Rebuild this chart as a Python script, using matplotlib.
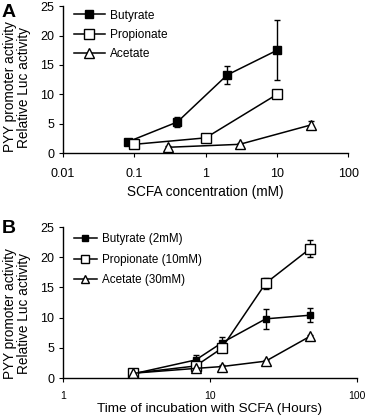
import matplotlib
matplotlib.use("Agg")
import matplotlib.pyplot as plt

plt.rcParams['font.family'] = ['Liberation Sans', 'DejaVu Sans']

# Panel A data
but_conc = [0.08, 0.4, 2, 10]
but_A = [1.9, 5.3, 13.3, 17.5]
but_A_err = [0.2, 0.8, 1.6, 5.1]
pro_conc = [0.1, 1, 10]
pro_A = [1.5, 2.6, 10.0]
pro_A_err = [0.2, 0.3, 0.6]
ace_conc = [0.3, 3, 30]
ace_A = [1.0, 1.5, 4.8]
ace_A_err = [0.2, 0.2, 0.7]

# Panel B data
hours = [3, 8, 12, 24, 48]
but_B = [0.7, 3.0, 5.8, 9.8, 10.4]
but_B_err = [0.1, 0.8, 1.0, 1.6, 1.2]
pro_B = [0.8, 2.0, 4.9, 15.7, 21.4]
pro_B_err = [0.1, 0.4, 0.4, 0.9, 1.4]
ace_B = [0.8, 1.6, 1.9, 2.8, 6.9]
ace_B_err = [0.1, 0.2, 0.2, 0.2, 0.3]

labelsA = ['Butyrate', 'Propionate', 'Acetate']
labelsB = ['Butyrate (2mM)', 'Propionate (10mM)', 'Acetate (30mM)']
xticksA = [0.01, 0.1, 1, 10, 100]
xticklabelsA = ['0.01', '0.1', '1', '10', '100']
xticksB = [1, 10, 100]
xticklabelsB = ['1', '10', '100']
yticks = [0, 5, 10, 15, 20, 25]

fig = plt.figure(figsize=(3.67, 4.15), dpi=100)
axA = fig.add_axes([0.172, 0.631, 0.777, 0.354])
axB = fig.add_axes([0.172, 0.089, 0.80, 0.364])

def style(ax):
    ax.spines['top'].set_visible(False)
    ax.spines['right'].set_visible(False)
    for s in ('left', 'bottom'):
        ax.spines[s].set_linewidth(1.0)
    ax.tick_params(axis='both', direction='out', length=3, width=0.8, labelsize=9)
    ax.minorticks_off()

common = dict(color='black', lw=1.1, capsize=2.5, elinewidth=1.0, capthick=1.0)
ylab = 'PYY promoter activity\nRelative Luc activity'

axA.errorbar(but_conc, but_A, yerr=but_A_err, marker='s', ms=5.5, mfc='black', mec='black', label=labelsA[0], **common)
axA.errorbar(pro_conc, pro_A, yerr=pro_A_err, marker='s', ms=7, mfc='white', mec='black', mew=1.0, label=labelsA[1], **common)
axA.errorbar(ace_conc, ace_A, yerr=ace_A_err, marker='^', ms=7.5, mfc='white', mec='black', mew=1.0, label=labelsA[2], **common)
axA.set_xscale('log')
axA.set_xlim(0.01, 100)
axA.set_ylim(0, 25)
axA.set_xticks(xticksA)
axA.set_xticklabels(xticklabelsA)
axA.set_yticks(yticks)
style(axA)
axA.tick_params(axis='x', pad=8)
axA.set_xlabel('SCFA concentration (mM)', fontsize=9.8, labelpad=3)
axA.set_ylabel(ylab, fontsize=9.8, linespacing=1.0)
axA.yaxis.set_label_coords(-0.112, 0.45)
hA, lA = axA.get_legend_handles_labels()
axA.legend([h[0] for h in hA], lA, loc='upper left', bbox_to_anchor=(0.0, 1.05), frameon=False,
           fontsize=8.6, handlelength=2.6, handletextpad=0.4, labelspacing=0.6)
fig.text(0.005, 0.99, 'A', fontsize=14, fontweight='bold', va='top', ha='left')

axB.errorbar(hours, but_B, yerr=but_B_err, marker='s', ms=5, mfc='black', mec='black', label=labelsB[0], **common)
axB.errorbar(hours, pro_B, yerr=pro_B_err, marker='s', ms=7, mfc='white', mec='black', mew=1.0, label=labelsB[1], **common)
axB.errorbar(hours, ace_B, yerr=ace_B_err, marker='^', ms=7.5, mfc='white', mec='black', mew=1.0, label=labelsB[2], **common)
axB.set_xscale('log')
axB.set_xlim(1, 100)
axB.set_ylim(0, 25)
axB.set_xticks(xticksB)
axB.set_xticklabels(xticklabelsB)
axB.set_yticks(yticks)
style(axB)
axB.tick_params(axis='x', labelsize=7.5, pad=6)
axB.set_xlabel('Time of incubation with SCFA (Hours)', fontsize=9.7, labelpad=2)
axB.set_ylabel(ylab, fontsize=9.8, linespacing=1.0)
axB.yaxis.set_label_coords(-0.108, 0.43)
hB, lB = axB.get_legend_handles_labels()
axB.legend([h[0] for h in hB], lB, loc='upper left', bbox_to_anchor=(0.0, 1.03), frameon=False,
           fontsize=8.4, handlelength=2.0, handletextpad=0.4, labelspacing=0.75, markerscale=0.75)
fig.text(0.005, 0.47, 'B', fontsize=14, fontweight='bold', va='top', ha='left')

fig.savefig('out.png', dpi=100)
